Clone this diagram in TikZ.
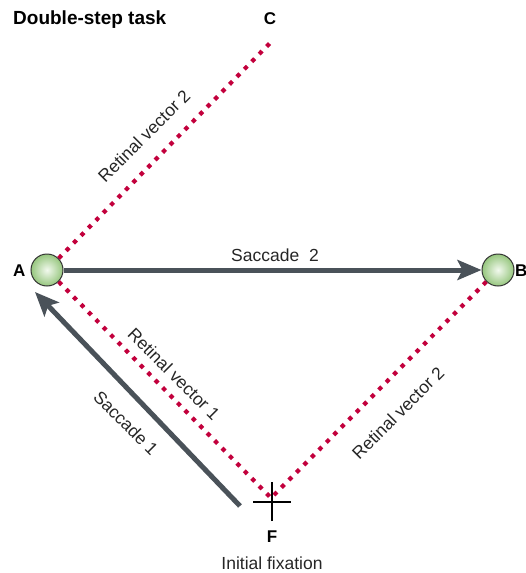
\documentclass[tikz,border=0pt]{standalone}
\usepackage{fontspec}
\setmainfont{Liberation Sans}
\usetikzlibrary{arrows.meta}
\definecolor{vecred}{HTML}{C2003C}
\definecolor{sacc}{HTML}{4A5259}
\definecolor{ballout}{HTML}{96C67E}
\definecolor{ballin}{HTML}{F2F9EE}
\tikzset{
  ball/.style={circle, minimum size=32pt, inner sep=0pt, draw=black!80, line width=1pt,
    inner color=ballin, outer color=ballout},
  retvec/.style={draw=vecred, line width=4.2pt, dash pattern=on 4.2pt off 6.4pt},
  saccarrow/.style={draw=sacc, line width=5pt, -{Stealth[length=24pt,width=20pt,inset=5pt]}},
  lbl/.style={font=\fontsize{17.5}{20}\selectfont, text=black!85, inner sep=0pt},
  pointlbl/.style={font=\fontsize{17}{20}\selectfont\bfseries, inner sep=0pt},
}
\begin{document}
\begin{tikzpicture}[x=1pt,y=-1pt]
\useasboundingbox (0,0) rectangle (525,573);
\node[ball] (A) at (47,270) {};
\node[ball] (B) at (498,270) {};
\coordinate (C) at (272,41);
\coordinate (F) at (271,498);
\coordinate (Fx) at (272,502);
\coordinate (S1a) at (240,506);
\coordinate (S1b) at (35,292);

% retinal vectors
\draw[retvec] (A.45) -- (C);
\draw[retvec] (A.-45) -- (F);
\draw[retvec] (B.-135) -- (F);

% saccades
\draw[saccarrow] (A.east) -- (B.west);
\draw[saccarrow] (S1a) -- (S1b);

% fixation cross
\draw[line width=2.4pt] ([xshift=-19pt]Fx) -- ([xshift=19pt]Fx);
\draw[line width=2.4pt] ([yshift=-19pt]Fx) -- ([yshift=20pt]Fx);

% labels
\node[pointlbl, anchor=west] (tA) at (13,271) {A};
\node[pointlbl, anchor=west] (tB) at (515,271) {B};
\node[pointlbl] (tC) at (270,19) {C};
\node[pointlbl] (tF) at (272,537) {F};
\node[lbl] (tIF) at (272,563) {Initial fixation};
\node[anchor=west, inner sep=0pt, font=\fontsize{19}{22}\selectfont\bfseries] (title) at (13,20) {Double-step task};

\node[lbl] (s2) at (275,255) {Saccade~~2};
\node[lbl, rotate=45] (rv2a) at (144,136) {Retinal vector 2};
\node[lbl, rotate=-45] (rv1) at (174,374) {Retinal vector 1};
\node[lbl, rotate=-45] (s1) at (126,423) {Saccade 1};
\node[lbl, rotate=45] (rv2b) at (398,413) {Retinal vector 2};
\end{tikzpicture}
\end{document}
